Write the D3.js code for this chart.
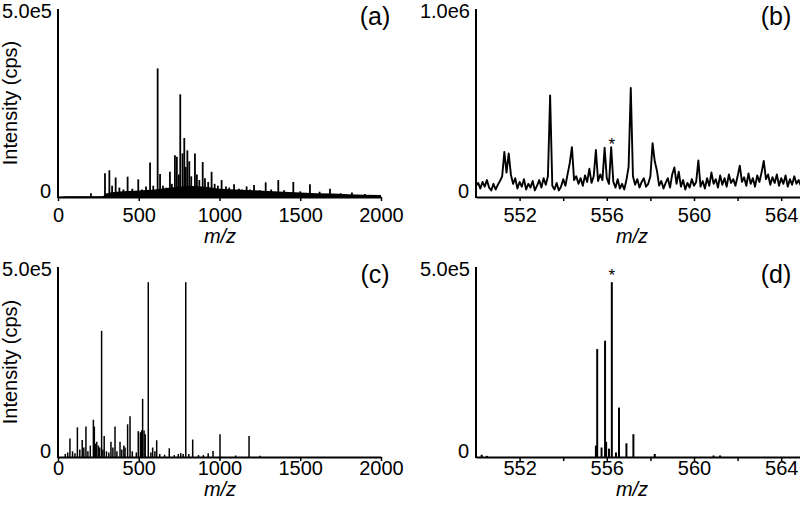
<!DOCTYPE html>
<html>
<head>
<meta charset="utf-8">
<script src="https://cdn.jsdelivr.net/npm/d3@7"></script>
<style>
  body { margin: 0; background: #fff; }
  svg { display: block; }
  text { font-family: "Liberation Sans", Arial, sans-serif; fill: #000; }
</style>
</head>
<body>
<svg id="chart" width="800" height="505"></svg>
<script>
// intensities are in thousands of cps

// (a) full scan: main peaks [m/z, k cps]
var peaksA = [[204,10],[291,63],[318,71],[335,30],[357,52],[380,25],[405,20],[431,54],[460,22],[497,47],
  [520,20],[545,28],[570,92],[590,30],[617,342],[632,61],[650,30],[670,25],[693,67],[705,35],[724,111],
  [736,107],[748,60],[757,273],[771,116],[782,157],[791,80],[801,124],[813,95],[825,55],[848,116],
  [860,60],[875,45],[896,93],[910,50],[930,40],[951,67],[970,35],[990,30],[1013,45],[1040,28],[1060,25],
  [1090,34],[1120,22],[1140,20],[1168,28],[1190,20],[1214,32],[1250,18],[1286,39],[1320,20],[1364,45],
  [1400,18],[1457,40],[1500,15],[1560,34],[1620,14],[1684,22],[1750,10],[1820,12],[1900,8]];
// (a) chemical noise band under the peaks
var bandA = [[0,0],[50,2],[280,2],[290,8],[320,12],[400,15],[500,17],[600,20],[700,25],[800,30],
  [900,28],[1000,22],[1100,20],[1200,18],[1300,16],[1400,14],[1500,12],[1600,10],[1700,9],[1800,7],
  [1900,6],[2000,5]];

// (b) zoomed profile, one value every 0.1 from m/z 550
var startB = 550, stepB = 0.1;
var profileB = [60,75,45,80,55,90,50,35,70,40,65,85,110,240,130,232,120,70,100,45,
  80,55,95,40,70,50,85,35,60,90,50,100,65,110,540,60,40,75,35,55,
  95,60,120,180,265,90,110,70,100,60,115,80,150,75,110,250,85,120,90,262,
  100,70,265,80,50,95,45,70,40,90,160,580,110,65,95,50,80,100,55,70,
  110,286,190,140,60,85,45,75,100,50,120,157,70,135,55,90,40,75,50,95,
  60,80,194,55,85,45,100,60,130,70,95,50,115,65,100,55,120,75,95,60,
  110,167,80,105,60,125,70,100,55,115,80,130,192,95,120,65,105,75,120,60,
  100,70,115,55,95,65,110,70,90,60,85];

// (c) MS/MS sticks [m/z, k cps]
var sticksC = [[45,8],[60,12],[74,49],[90,15],[105,10],[120,78],[135,20],[150,45],[160,25],[173,80],
  [185,15],[200,30],[219,98],[225,80],[232,35],[240,40],[250,30],[258,25],[270,332],[278,20],[286,55],
  [300,15],[315,12],[328,40],[340,25],[353,80],[365,15],[384,40],[395,20],[408,30],[415,25],[431,86],
  [446,107],[460,15],[485,12],[497,68],[510,65],[518,70],[524,153],[533,70],[540,60],[559,460],[575,12],
  [586,25],[600,15],[611,44],[630,8],[660,6],[689,23],[720,5],[745,8],[760,10],[775,8],[791,460],
  [810,8],[834,46],[870,5],[900,5],[930,10],[960,16],[1003,60],[1100,4],[1183,55],[1250,3]];

// (d) isotope cluster sticks [m/z, k cps]
var sticksD = [[550.26,6],[550.5,3],[555.5,30],[555.56,284],[555.76,25],[555.92,306],[555.97,40],
  [556.1,22],[556.23,460],[556.42,12],[556.56,130],[556.9,36],[557.22,60],[558.2,8],[560.9,4],[561.2,4]];

var ticksWide = [0, 500, 1000, 1500, 2000];
var ticksNarrow = [552, 554, 556, 558, 560, 562, 564];
var labelsNarrow = [552, 556, 560, 564];

var svg = d3.select("#chart");

function panel(p) {
  var x = d3.scaleLinear().domain(p.xDomain).range([p.left, p.right]);
  var y = d3.scaleLinear().domain([0, p.yMax]).range([p.bottom, p.top]);
  var g = svg.append("g");

  if (p.band) {
    g.append("path")
      .datum(p.band)
      .attr("d", d3.area().x(d => x(d[0])).y0(y(0)).y1(d => y(d[1])))
      .attr("fill", "#000");
  }
  if (p.sticks) {
    g.selectAll(null)
      .data(p.sticks)
      .enter()
      .append("line")
      .attr("x1", d => x(d[0])).attr("x2", d => x(d[0]))
      .attr("y1", y(0)).attr("y2", d => y(d[1]))
      .attr("stroke", "#000")
      .attr("stroke-width", p.stickWidth);
  }
  if (p.profile) {
    g.append("path")
      .datum(p.profile)
      .attr("d", d3.line().x((d, i) => x(startB + i * stepB)).y(d => y(d)))
      .attr("fill", "none")
      .attr("stroke", "#000")
      .attr("stroke-width", 1.9)
      .attr("stroke-linejoin", "round");
  }

  // x axis
  var ax = d3.axisBottom(x)
    .tickValues(p.ticks)
    .tickSize(4)
    .tickSizeOuter(0)
    .tickPadding(p.tickPad)
    .tickFormat(d => p.labels.indexOf(d) >= 0 ? d : "");
  var axg = g.append("g").attr("transform", "translate(0," + y(0) + ")").call(ax);
  axg.select(".domain").attr("stroke-width", 2);
  axg.selectAll(".tick line").attr("stroke-width", 1.5);
  axg.selectAll("text").attr("font-size", 20).attr("font-family", "Liberation Sans, Arial, sans-serif");

  // y axis line only
  g.append("line")
    .attr("x1", p.left).attr("x2", p.left)
    .attr("y1", y(p.yMax)).attr("y2", y(0) + 1)
    .attr("stroke", "#000").attr("stroke-width", 2);

  g.append("text").attr("x", p.left - 6).attr("y", y(p.yMax) + 9)
    .attr("text-anchor", "end").attr("font-size", 20).text(p.yTop);
  g.append("text").attr("x", p.left - 7).attr("y", y(0) + 1)
    .attr("text-anchor", "end").attr("font-size", 20).text("0");

  g.append("text").attr("x", p.letterX).attr("y", p.top + 16)
    .attr("text-anchor", "middle").attr("font-size", 25).text(p.letter);

  g.append("text").attr("x", p.mzX).attr("y", p.mzY)
    .attr("text-anchor", "middle").attr("font-size", 20).attr("font-style", "italic").text("m/z");

  if (p.yLabel) {
    g.append("text")
      .attr("transform", "translate(17," + ((p.top + p.bottom) / 2) + ") rotate(-90)")
      .attr("text-anchor", "middle").attr("font-size", 20).text("Intensity (cps)");
  }
  if (p.star) {
    g.append("text").attr("x", x(p.star[0])).attr("y", y(p.star[1]))
      .attr("text-anchor", "middle").attr("font-size", 17).text("*");
  }
}

panel({ left: 58, right: 381, top: 9, bottom: 197, xDomain: [0, 2000], yMax: 500, yTop: "5.0e5",
  letter: "(a)", letterX: 375, band: bandA, sticks: peaksA, stickWidth: 1.8, ticks: ticksWide,
  labels: ticksWide, tickPad: 7, mzX: 220, mzY: 243, yLabel: true });
panel({ left: 476, right: 803, top: 9, bottom: 197, xDomain: [550, 565], yMax: 1000, yTop: "1.0e6",
  letter: "(b)", letterX: 776, profile: profileB, ticks: ticksNarrow, labels: labelsNarrow, tickPad: 7,
  mzX: 632, mzY: 243, star: [556.23, 250] });
panel({ left: 58, right: 381, top: 267, bottom: 457, xDomain: [0, 2000], yMax: 500, yTop: "5.0e5",
  letter: "(c)", letterX: 375, sticks: sticksC, stickWidth: 1.5, ticks: ticksWide, labels: ticksWide,
  tickPad: 0, mzX: 220, mzY: 496, yLabel: true });
panel({ left: 476, right: 803, top: 267, bottom: 457, xDomain: [550, 565], yMax: 500, yTop: "5.0e5",
  letter: "(d)", letterX: 776, sticks: sticksD, stickWidth: 2, ticks: ticksNarrow, labels: labelsNarrow,
  tickPad: 0, mzX: 632, mzY: 496, star: [556.23, 462] });
</script>
</body>
</html>
